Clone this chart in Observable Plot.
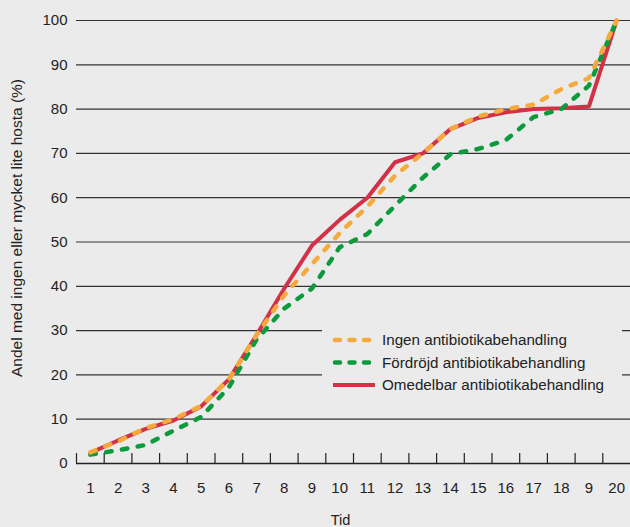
<!DOCTYPE html>
<html>
<head>
<meta charset="utf-8">
<script src="https://cdn.jsdelivr.net/npm/d3@7"></script>
<script src="https://cdn.jsdelivr.net/npm/@observablehq/plot@0.6"></script>
<style>
  html, body { margin: 0; padding: 0; background: #ebebeb; }
  #chart { width: 630px; height: 527px; }
</style>
</head>
<body>
<div id="chart"></div>
<script>
const categories = [1,2,3,4,5,6,7,8,9,10,11,12,13,14,15,16,17,18,19,20];
const tickLabels = ["1","2","3","4","5","6","7","8","9","10","11","12","13","14","15","16","17","18","9","20"];
const yTicks = [0,10,20,30,40,50,60,70,80,90,100];
const seriesNames = ["Ingen antibiotikabehandling","Fördröjd antibiotikabehandling","Omedelbar antibiotikabehandling"];
const ingen = [2.5,5,8,10,13,19,29,38,45,52,58,65,70,75.5,78.3,80,81,84.5,87,100];
const fordrojd = [2,3,4.2,7.4,10.5,17.2,28,35,39.5,48.8,51.8,58.2,64.5,69.8,71,73,78.2,80,85.3,100];
const omedelbar = [2.4,5.2,7.8,9.7,12.9,19,29,39.5,49.2,55,60,68,70,75.5,78,79.3,80,80.2,80.6,100];
const colors = {ingen: "#f6aa3c", fordrojd: "#0d9a3c", omedelbar: "#d23147"};
const xLabel = "Tid";
const yLabel = "Andel med ingen eller mycket lite hosta (%)";

const rows = (vals) => categories.map((c, i) => ({x: c, y: vals[i]}));
const edges = categories.map(c => c - 0.5);
const font = "'Liberation Sans', Arial, Helvetica, sans-serif";

const plot = Plot.plot({
  width: 630,
  height: 527,
  marginLeft: 76,
  marginRight: 0,
  marginTop: 20,
  marginBottom: 64,
  x: {domain: [0.5, 20.5]},
  y: {domain: [0, 100]},
  style: {background: "#ebebeb", fontFamily: font, fontSize: "15px", color: "#222", overflow: "visible"},
  marks: [
    Plot.ruleY(yTicks.filter(d => d > 0), {x1: 0.5, x2: 20.5, stroke: "#333", strokeWidth: 1.2}),
    Plot.ruleX(edges, {y1: 0, y2: 2.25, stroke: "#222", strokeWidth: 1.2}),
    Plot.ruleY([0], {x1: 0.5, x2: 20.5, stroke: "#222", strokeWidth: 1.6}),
    Plot.axisY({ticks: yTicks, tickSize: 0, tickPadding: 9, fontSize: 15, label: null}),
    Plot.axisX({ticks: categories, tickSize: 0, tickPadding: 19, fontSize: 15, label: null,
      tickFormat: d => tickLabels[categories.indexOf(d)]}),
    Plot.text([xLabel], {frameAnchor: "bottom", dy: 57, dx: -13, lineAnchor: "middle", fontSize: 14.5, fill: "#222"}),
    Plot.text([yLabel], {frameAnchor: "left", dx: -59, dy: -14, rotate: -90, lineAnchor: "middle", textAnchor: "middle", fontSize: 15.5, fill: "#222"}),
    Plot.line(rows(omedelbar), {x: "x", y: "y", stroke: colors.omedelbar, strokeWidth: 4, strokeLinejoin: "miter"}),
    Plot.line(rows(fordrojd), {x: "x", y: "y", stroke: colors.fordrojd, strokeWidth: 4.5, strokeDasharray: "5.5,10.5", strokeLinecap: "round"}),
    Plot.line(rows(ingen), {x: "x", y: "y", stroke: colors.ingen, strokeWidth: 4.5, strokeDasharray: "5.5,10.5", strokeLinecap: "round"})
  ]
});

document.getElementById("chart").appendChild(plot);

// Legend drawn inside the SVG with a background box covering the gridlines
const svg = d3.select(plot);
const lg = svg.append("g").attr("font-family", font).attr("font-size", 15.2).attr("fill", "#222").attr("text-anchor", "start");
lg.append("rect").attr("x", 322).attr("y", 318).attr("width", 300).attr("height", 77).attr("fill", "#ebebeb");
const legendItems = [
  {name: seriesNames[0], color: colors.ingen, dash: "5,9.5", cap: "round", w: 4.5},
  {name: seriesNames[1], color: colors.fordrojd, dash: "5,9.5", cap: "round", w: 4.5},
  {name: seriesNames[2], color: colors.omedelbar, dash: null, cap: "butt", w: 4}
];
legendItems.forEach((it, i) => {
  const yy = 340 + i * 22.5;
  const ln = lg.append("line").attr("x1", it.cap === "round" ? 335 : 333).attr("x2", 375).attr("y1", yy).attr("y2", yy)
    .attr("stroke", it.color).attr("stroke-width", it.w).attr("stroke-linecap", it.cap);
  if (it.dash) ln.attr("stroke-dasharray", it.dash);
  lg.append("text").attr("x", 382).attr("y", yy).attr("dy", "0.35em").attr("text-anchor", "start").text(it.name);
});
</script>
</body>
</html>
